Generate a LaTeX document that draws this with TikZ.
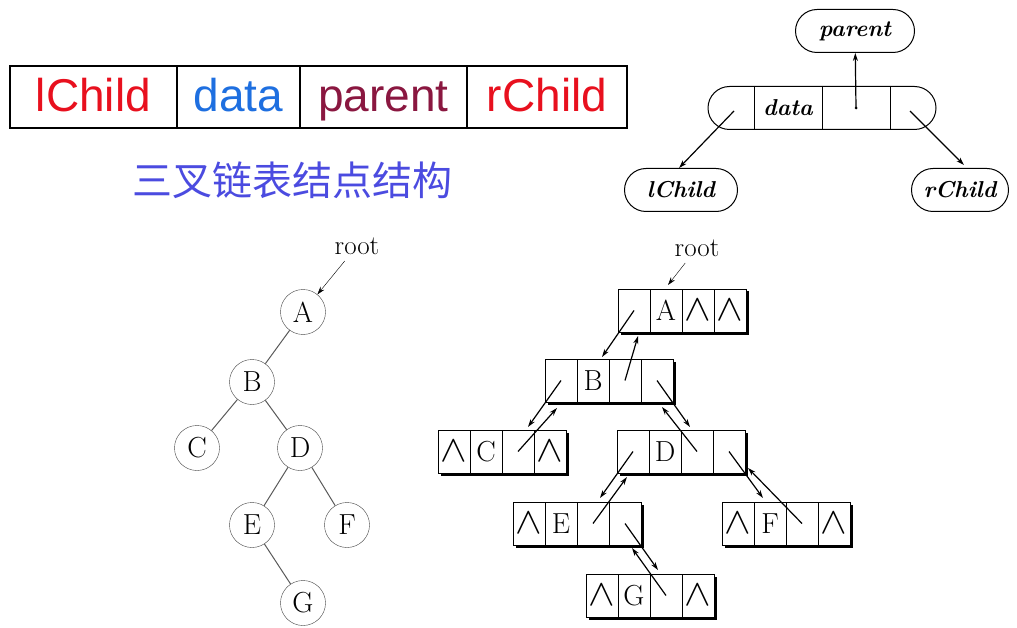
\documentclass[tikz,border=0pt]{standalone}
\usepackage{graphicx}
\usepackage{fontspec}
\newfontfamily\hdfont{Liberation Sans}
\newfontfamily\cjkfont{Noto Sans CJK SC}
\usetikzlibrary{arrows.meta,positioning,calc}

\definecolor{lcred}{HTML}{E8101E}
\definecolor{dtblue}{HTML}{1E6FE0}
\definecolor{prred}{HTML}{8A1740}
\definecolor{cnblue}{HTML}{4B4BE0}

% one record: lChild | data | parent | rChild, with a shadow
\newcommand{\rec}[7]{%
  \fill (#2+2.5,#3+2.5) rectangle ++(128,43);
  \node[cell,anchor=north west] (#1-l) at (#2,#3) {#4};
  \node[cell,right=0pt of #1-l] (#1-d) {#5};
  \node[cell,right=0pt of #1-d] (#1-p) {#6};
  \node[cell,right=0pt of #1-p] (#1-r) {#7};
}
\newcommand{\nil}{\scalebox{1.6}[1.5]{$\wedge$}}

\begin{document}
\begin{tikzpicture}[x=1pt,y=-1pt,>={Stealth[length=8pt,width=5pt]},
   hd/.style={draw,line width=2.5pt,minimum height=62,inner sep=0pt,outer sep=0pt,
     text height=33pt,text depth=3pt,font=\hdfont\fontsize{46}{46}\selectfont},
   fld/.style={font=\bfseries\itshape\fontsize{23}{23}\selectfont,inner sep=0pt},
   pill/.style={draw,line width=1pt,rounded corners=21.5pt,minimum height=43},
   vtx/.style={circle,draw=black!75,minimum size=45,inner sep=0pt,
     font=\fontsize{29}{29}\selectfont},
   edge/.style={black!65,line width=1pt},
   cell/.style={draw,fill=white,minimum width=32,minimum height=43,inner sep=0pt,
     outer sep=0pt,font=\fontsize{29}{29}\selectfont},
   lnk/.style={->,line width=1.2pt}]
  \useasboundingbox (0,0) rectangle (1017,628);

  % node layout
  \node[hd,minimum width=167,anchor=north west,text=lcred] (hl) at (10,66) {lChild};
  \node[hd,minimum width=123,right=0pt of hl,text=dtblue] (hdt) {data};
  \node[hd,minimum width=167,right=0pt of hdt,text=prred] (hp) {parent};
  \node[hd,minimum width=160,right=0pt of hp,text=lcred] (hr) {rChild};
  \node[font=\cjkfont\fontsize{40}{40}\selectfont,text=cnblue] (title) at (292,180) {三叉链表结点结构};

  % field sketch
  \node[pill,minimum width=228,inner sep=0pt] (fmt) at (822,108) {};
  \foreach \dx in {-68,0,68}
    \draw[line width=1pt] ([xshift=\dx pt]fmt.north) -- ([xshift=\dx pt]fmt.south);
  \node[fld] (fdata) at (788,108) {data};
  \node[fld,pill,minimum width=119] (fpar) at (855,31) {parent};
  \node[fld,pill,minimum width=113] (flc) at (681,190) {lChild};
  \node[fld,pill,minimum width=97] (frc) at (960,190) {rChild};
  \coordinate (fp) at (856,108);
  \coordinate (fl) at (734,111);
  \coordinate (fr) at (910,111);
  \fill (fp) circle (1.5);
  \draw[lnk] (fp) -- (fpar);
  \draw[lnk] (fl) -- ([xshift=-2pt]flc.north);
  \draw[lnk] (fr) -- ([xshift=4pt,yshift=3pt]frc.north);

  % binary tree
  \node[vtx] (a) at (303,312) {A};
  \node[vtx] (b) at (252,382) {B};
  \node[vtx] (c) at (197,448) {C};
  \node[vtx] (d) at (300,448) {D};
  \node[vtx] (e) at (252,525) {E};
  \node[vtx] (f) at (347,525) {F};
  \node[vtx] (g) at (303,603) {G};
  \node[font=\fontsize{27}{27}\selectfont] (lroot) at (357,246) {root};
  \draw[->,shorten <=4pt] (lroot) -- (a);
  \draw[edge] (a) -- (b);
  \draw[edge] (b) -- (c);
  \draw[edge] (b) -- (d);
  \draw[edge] (d) -- (e);
  \draw[edge] (d) -- (f);
  \draw[edge] (e) -- (g);

  % triple linked storage
  \rec{A}{618}{289}{}{A}{\nil}{\nil}
  \rec{B}{545}{359}{}{B}{}{}
  \rec{C}{438}{430}{\nil}{C}{}{\nil}
  \rec{D}{617}{430}{}{D}{}{}
  \rec{E}{513}{502}{\nil}{E}{}{}
  \rec{F}{722}{502}{\nil}{F}{}{\nil}
  \rec{G}{586}{574}{\nil}{G}{}{\nil}
  \node[font=\fontsize{27}{27}\selectfont] (rroot) at (697,248) {root};
  \draw[->,shorten <=4pt] (rroot) -- ([xshift=2pt,yshift=4pt]A-d.north);

  \draw[lnk] (A-l.center) -- ([xshift=9pt,yshift=2pt]B-d.north);
  \draw[lnk] (B-p.center) -- ([xshift=4pt,yshift=-4pt]A-l.south);
  \draw[lnk] (B-l.center) -- ([xshift=10pt,yshift=3pt]C-p.north);
  \draw[lnk] (C-p.center) -- ([xshift=-4pt,yshift=-6pt]B-l.south);
  \draw[lnk] (B-r.center) -- ([xshift=-7pt,yshift=3pt]D-p.north);
  \draw[lnk] (D-p.center) -- ([xshift=5pt,yshift=-5pt]B-r.south);
  \draw[lnk] (D-l.center) -- ([xshift=7pt,yshift=4pt]E-p.north);
  \draw[lnk] (E-p.center) -- ([xshift=-6pt,yshift=-4pt]D-l.south);
  \draw[lnk] (D-r.center) -- ([xshift=-7pt,yshift=4pt]F-d.north);
  \draw[lnk] (F-p.center) -- ([xshift=3pt,yshift=5pt]D-r.south east);
  \draw[lnk] (E-r.center) -- ([xshift=-8pt,yshift=4pt]G-p.north);
  \draw[lnk] (G-p.center) -- ([xshift=7pt,yshift=-3pt]E-r.south);
\end{tikzpicture}
\end{document}
